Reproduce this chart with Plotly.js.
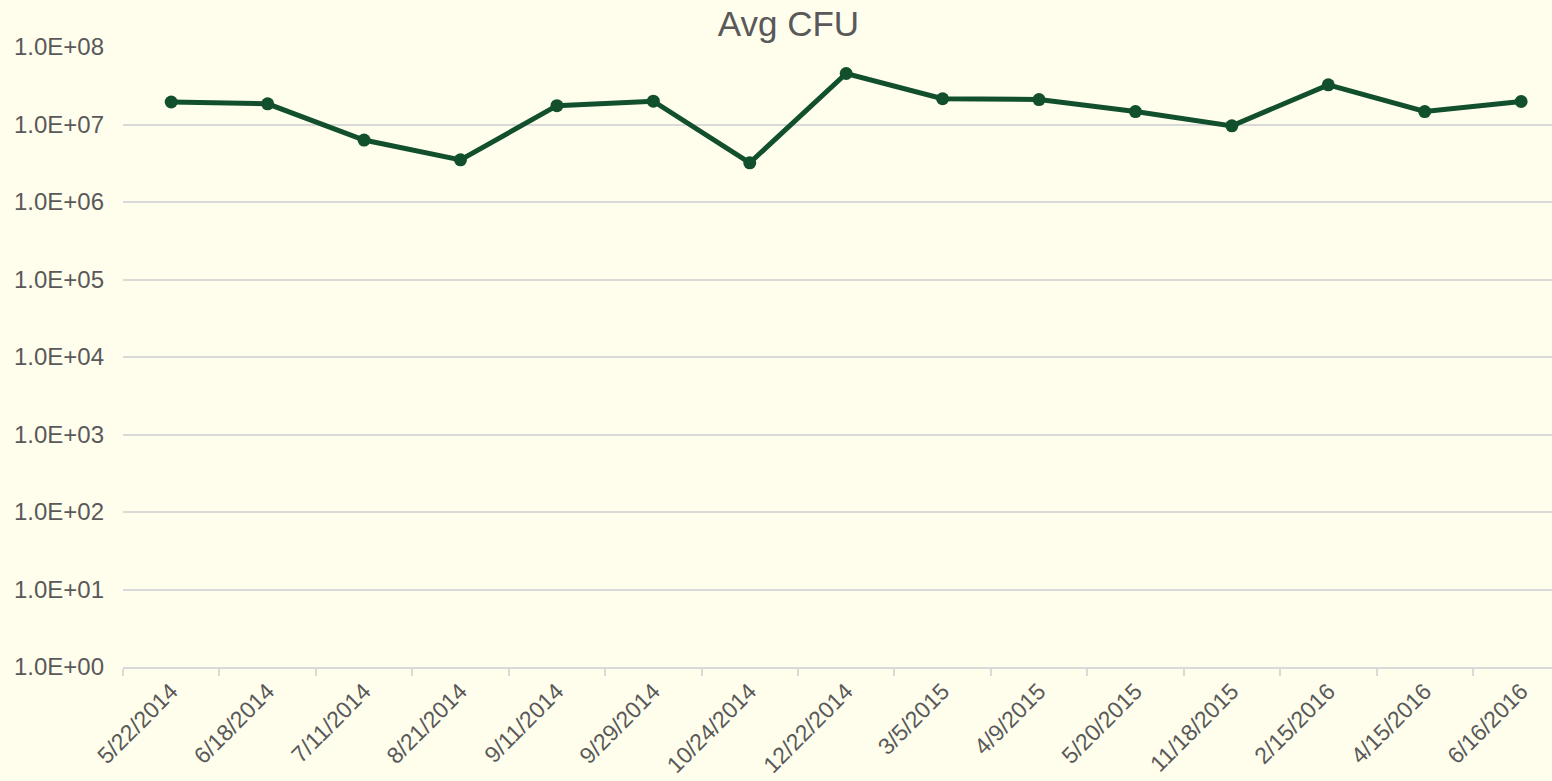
<!DOCTYPE html>
<html>
<head>
<meta charset="utf-8">
<script src="https://cdn.plot.ly/plotly-3.0.1.min.js"></script>
<style>html,body{margin:0;padding:0;background:#fffeed;}#chart{width:1552px;height:781px;}</style>
</head>
<body>
<div id="chart"></div>
<script>
const dates = ["5/22/2014","6/18/2014","7/11/2014","8/21/2014","9/11/2014","9/29/2014","10/24/2014","12/22/2014","3/5/2015","4/9/2015","5/20/2015","11/18/2015","2/15/2016","4/15/2016","6/16/2016"];
const avgCFU = [1.95e7, 1.85e7, 6.3e6, 3.5e6, 1.75e7, 2.0e7, 3.2e6, 4.55e7, 2.15e7, 2.1e7, 1.47e7, 9.6e6, 3.25e7, 1.47e7, 1.98e7];
const yTickVals = [1e0,1e1,1e2,1e3,1e4,1e5,1e6,1e7,1e8];
const yTickText = ["1.0E+00","1.0E+01","1.0E+02","1.0E+03","1.0E+04","1.0E+05","1.0E+06","1.0E+07","1.0E+08"];

const trace = {
  x: dates, y: avgCFU, type: "scatter", mode: "lines+markers",
  line: {color: "#12502d", width: 5},
  marker: {color: "#12502d", size: 13},
  hoverinfo: "x+y"
};
const layout = {
  width: 1552, height: 781,
  paper_bgcolor: "#fffeed", plot_bgcolor: "#fffeed",
  margin: {l: 123, r: 0, t: 47, b: 114},
  title: {text: "Avg CFU", x: 0.508, xanchor: "center", y: 0.969, yanchor: "middle",
          font: {family: "Liberation Sans, Arial, sans-serif", size: 35, color: "#595959"}},
  showlegend: false,
  font: {family: "Liberation Sans, Arial, sans-serif", color: "#595959", size: 22},
  xaxis: {
    type: "category", range: [-0.5, 14.32], tickangle: -45, tickson: "boundaries",
    ticks: "outside", ticklen: 7, tickcolor: "#d9d9d9", tickwidth: 1.5,
    showline: true, linecolor: "#d9d9d9", linewidth: 1.5,
    showgrid: false, zeroline: false,
    tickfont: {size: 23, color: "#595959"}
  },
  yaxis: {
    type: "log", range: [0, 8],
    tickvals: yTickVals, ticktext: yTickText,
    showgrid: true, gridcolor: "#d9d9d9", gridwidth: 1.5,
    zeroline: false, showline: false, ticks: "", ticklabelstandoff: 18,
    tickfont: {size: 24, color: "#595959"}
  }
};
Plotly.newPlot("chart", [trace], layout, {displayModeBar: false, responsive: false});
</script>
</body>
</html>
